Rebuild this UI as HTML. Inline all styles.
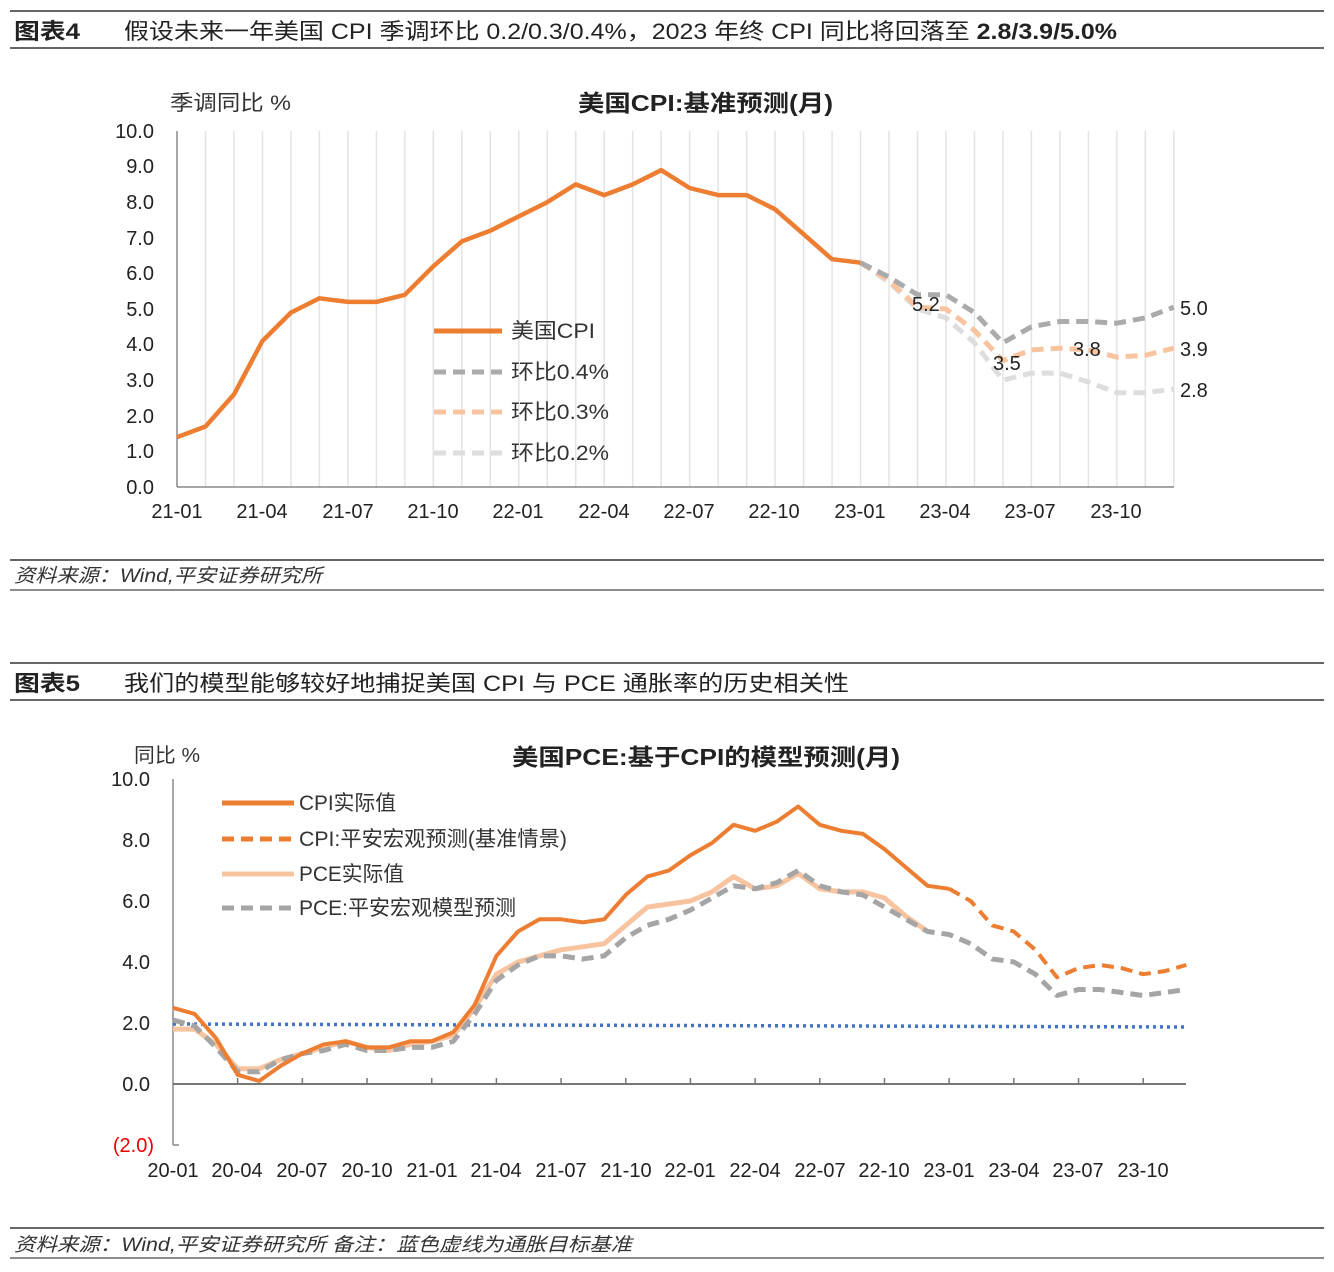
<!DOCTYPE html>
<html><head><meta charset="utf-8"><style>
body{margin:0;background:#fff;width:1334px;height:1272px;overflow:hidden}
svg{display:block;font-family:"Liberation Sans","Noto Sans CJK SC",sans-serif}
</style></head><body>
<svg id="s" width="1334" height="1272" viewBox="0 0 1334 1272" xmlns="http://www.w3.org/2000/svg">
<rect width="1334" height="1272" fill="#fff"/>
<line x1="10" y1="11" x2="1324" y2="11" stroke="#666" stroke-width="2"/>
<line x1="10" y1="48" x2="1324" y2="48" stroke="#666" stroke-width="2"/>
<text x="14" y="39" font-size="22" font-weight="bold" fill="#222" textLength="66" lengthAdjust="spacingAndGlyphs">图表4</text>
<text x="124" y="39" font-size="22" fill="#222" textLength="993" lengthAdjust="spacingAndGlyphs">假设未来一年美国 CPI 季调环比 0.2/0.3/0.4%，2023 年终 CPI 同比将回落至 <tspan font-weight="bold">2.8/3.9/5.0%</tspan></text>
<text x="170" y="110" font-size="21" fill="#333" textLength="121" lengthAdjust="spacingAndGlyphs">季调同比 %</text>
<text x="578" y="111" font-size="23" font-weight="bold" fill="#222" textLength="255" lengthAdjust="spacingAndGlyphs">美国CPI:基准预测(月)</text>
<g id="grid1" stroke="#e3e3e3" stroke-width="1.5"></g>
<line x1="177" y1="131" x2="177" y2="487" stroke="#888" stroke-width="1.5"/>
<line x1="177" y1="487" x2="1174" y2="487" stroke="#888" stroke-width="1.5"/>
<g font-size="20" fill="#222" text-anchor="end">
<text x="154" y="138">10.0</text><text x="154" y="173">9.0</text><text x="154" y="209">8.0</text><text x="154" y="245">7.0</text><text x="154" y="280">6.0</text><text x="154" y="316">5.0</text><text x="154" y="351">4.0</text><text x="154" y="387">3.0</text><text x="154" y="423">2.0</text><text x="154" y="458">1.0</text><text x="154" y="494">0.0</text>
</g>
<g font-size="20" fill="#222" text-anchor="middle">
<text x="177" y="518">21-01</text><text x="262" y="518">21-04</text><text x="348" y="518">21-07</text><text x="433" y="518">21-10</text><text x="518" y="518">22-01</text><text x="604" y="518">22-04</text><text x="689" y="518">22-07</text><text x="774" y="518">22-10</text><text x="860" y="518">23-01</text><text x="945" y="518">23-04</text><text x="1030" y="518">23-07</text><text x="1116" y="518">23-10</text>
</g>
<g id="c1"></g>
<g font-size="20" fill="#222">
<text x="912" y="311">5.2</text><text x="993" y="370">3.5</text><text x="1073" y="356">3.8</text>
<text x="1180" y="315">5.0</text><text x="1180" y="356">3.9</text><text x="1180" y="397">2.8</text>
</g>
<g font-size="21" fill="#333">
<line x1="434" y1="331" x2="502" y2="331" stroke="#ED7D31" stroke-width="5"/><text x="511" y="338" textLength="84" lengthAdjust="spacingAndGlyphs">美国CPI</text>
<line x1="434" y1="372" x2="502" y2="372" stroke="#ABABAB" stroke-width="5" stroke-dasharray="12,7"/><text x="511" y="379" textLength="98" lengthAdjust="spacingAndGlyphs">环比0.4%</text>
<line x1="434" y1="412" x2="502" y2="412" stroke="#F8C4A0" stroke-width="5" stroke-dasharray="12,7"/><text x="511" y="419" textLength="98" lengthAdjust="spacingAndGlyphs">环比0.3%</text>
<line x1="434" y1="453" x2="502" y2="453" stroke="#DDDDDD" stroke-width="5" stroke-dasharray="12,7"/><text x="511" y="460" textLength="98" lengthAdjust="spacingAndGlyphs">环比0.2%</text>
</g>
<line x1="10" y1="560" x2="1324" y2="560" stroke="#666" stroke-width="2"/>
<line x1="10" y1="590" x2="1324" y2="590" stroke="#666" stroke-width="1.5"/>
<text x="14" y="582" font-size="19" font-style="italic" fill="#333" textLength="308" lengthAdjust="spacingAndGlyphs">资料来源：Wind,平安证券研究所</text>

<line x1="10" y1="663" x2="1324" y2="663" stroke="#666" stroke-width="2"/>
<line x1="10" y1="700" x2="1324" y2="700" stroke="#666" stroke-width="2"/>
<text x="14" y="691" font-size="22" font-weight="bold" fill="#222" textLength="66" lengthAdjust="spacingAndGlyphs">图表5</text>
<text x="124" y="691" font-size="22" fill="#222" textLength="725" lengthAdjust="spacingAndGlyphs">我们的模型能够较好地捕捉美国 CPI 与 PCE 通胀率的历史相关性</text>
<text x="134" y="762" font-size="20" fill="#333" textLength="66" lengthAdjust="spacingAndGlyphs">同比 %</text>
<text x="512" y="765" font-size="23" font-weight="bold" fill="#222" textLength="388" lengthAdjust="spacingAndGlyphs">美国PCE:基于CPI的模型预测(月)</text>
<line x1="173" y1="779" x2="173" y2="1145" stroke="#888" stroke-width="1.5"/>
<line x1="173" y1="1145" x2="179" y2="1145" stroke="#888" stroke-width="1.5"/>
<line x1="173" y1="1084" x2="1186" y2="1084" stroke="#777" stroke-width="2"/>
<g id="ticks2" stroke="#777" stroke-width="1.5"></g>
<g font-size="20" fill="#222" text-anchor="end">
<text x="150" y="786">10.0</text><text x="150" y="847">8.0</text><text x="150" y="908">6.0</text><text x="150" y="969">4.0</text><text x="150" y="1030">2.0</text><text x="150" y="1091">0.0</text><text x="154" y="1152" fill="#E00">(2.0)</text>
</g>
<g font-size="20" fill="#222" text-anchor="middle">
<text x="173" y="1177">20-01</text><text x="237" y="1177">20-04</text><text x="302" y="1177">20-07</text><text x="367" y="1177">20-10</text><text x="432" y="1177">21-01</text><text x="496" y="1177">21-04</text><text x="561" y="1177">21-07</text><text x="626" y="1177">21-10</text><text x="690" y="1177">22-01</text><text x="755" y="1177">22-04</text><text x="820" y="1177">22-07</text><text x="884" y="1177">22-10</text><text x="949" y="1177">23-01</text><text x="1014" y="1177">23-04</text><text x="1078" y="1177">23-07</text><text x="1143" y="1177">23-10</text>
</g>
<line x1="173" y1="1024" x2="1186" y2="1027" stroke="#4472C4" stroke-width="3.5" stroke-dasharray="3,4"/>
<g id="c2"></g>
<g font-size="21" fill="#333">
<line x1="222" y1="803" x2="294" y2="803" stroke="#ED7D31" stroke-width="5"/><text x="299" y="810" textLength="97" lengthAdjust="spacingAndGlyphs">CPI实际值</text>
<line x1="222" y1="839" x2="294" y2="839" stroke="#ED7D31" stroke-width="5" stroke-dasharray="12,7"/><text x="299" y="846" textLength="268" lengthAdjust="spacingAndGlyphs">CPI:平安宏观预测(基准情景)</text>
<line x1="222" y1="874" x2="294" y2="874" stroke="#F8C4A0" stroke-width="5"/><text x="299" y="881" textLength="105" lengthAdjust="spacingAndGlyphs">PCE实际值</text>
<line x1="222" y1="908" x2="294" y2="908" stroke="#A5A5A5" stroke-width="5" stroke-dasharray="12,7"/><text x="299" y="915" textLength="217" lengthAdjust="spacingAndGlyphs">PCE:平安宏观模型预测</text>
</g>
<line x1="10" y1="1228" x2="1324" y2="1228" stroke="#666" stroke-width="2"/>
<line x1="10" y1="1258" x2="1324" y2="1258" stroke="#666" stroke-width="1.5"/>
<text x="14" y="1251" font-size="19" font-style="italic" fill="#333" textLength="618" lengthAdjust="spacingAndGlyphs">资料来源：Wind,平安证券研究所 备注：蓝色虚线为通胀目标基准</text>
</svg>
<script>
var NS="http://www.w3.org/2000/svg";
function pl(g,pts,col,w,dash){var p=document.createElementNS(NS,"polyline");p.setAttribute("points",pts.join(" "));p.setAttribute("fill","none");p.setAttribute("stroke",col);p.setAttribute("stroke-width",w);p.setAttribute("stroke-linejoin","round");if(dash)p.setAttribute("stroke-dasharray",dash);document.getElementById(g).appendChild(p);}
var g1=document.getElementById("grid1");
for(var i=1;i<36;i++){var x=177+i*28.48;var l=document.createElementNS(NS,"line");l.setAttribute("x1",x);l.setAttribute("x2",x);l.setAttribute("y1",131);l.setAttribute("y2",487);g1.appendChild(l);}
function P1(arr,start){return arr.map(function(v,i){return (177+(start+i)*28.48).toFixed(1)+","+(487-v*35.6).toFixed(1)});}
var cpi=[1.4,1.7,2.6,4.1,4.9,5.3,5.2,5.2,5.4,6.2,6.9,7.2,7.6,8.0,8.5,8.2,8.5,8.9,8.4,8.2,8.2,7.8,7.1,6.4,6.3];
pl("c1",P1([6.3,5.75,5.0,4.75,4.05,3.0,3.2,3.2,2.95,2.65,2.65,2.75],24),"#DDDDDD",5,"12,7");
pl("c1",P1([6.3,5.8,5.05,5.0,4.4,3.55,3.85,3.9,3.85,3.65,3.7,3.9],24),"#F8C4A0",5,"12,7");
pl("c1",P1([6.3,5.9,5.4,5.4,4.9,4.05,4.5,4.65,4.65,4.6,4.75,5.05],24),"#ABABAB",5,"12,7");
pl("c1",P1(cpi,0),"#ED7D31",4.5);
var t2=document.getElementById("ticks2");
for(var i=3;i<48;i+=3){var x=173+i*21.56;var l=document.createElementNS(NS,"line");l.setAttribute("x1",x);l.setAttribute("x2",x);l.setAttribute("y1",1078);l.setAttribute("y2",1084);t2.appendChild(l);}
function P2(arr,start){return arr.map(function(v,i){return (173+(start+i)*21.56).toFixed(1)+","+(1084-v*30.5).toFixed(1)});}
var pce=[1.8,1.8,1.3,0.5,0.5,0.8,1.0,1.2,1.4,1.2,1.1,1.3,1.4,1.6,2.5,3.6,4.0,4.2,4.4,4.5,4.6,5.2,5.8,5.9,6.0,6.3,6.8,6.4,6.5,6.9,6.4,6.3,6.3,6.1,5.5,5.0];
var pm=[2.1,1.9,1.2,0.4,0.4,0.8,1.0,1.1,1.3,1.1,1.1,1.2,1.2,1.4,2.3,3.4,3.9,4.2,4.2,4.1,4.2,4.8,5.2,5.4,5.7,6.1,6.5,6.4,6.6,7.0,6.5,6.3,6.2,5.8,5.4,5.0,4.9,4.6,4.1,4.0,3.6,2.9,3.1,3.1,3.0,2.9,3.0,3.1];
var c=[2.5,2.3,1.5,0.3,0.1,0.6,1.0,1.3,1.4,1.2,1.2,1.4,1.4,1.7,2.6,4.2,5.0,5.4,5.4,5.3,5.4,6.2,6.8,7.0,7.5,7.9,8.5,8.3,8.6,9.1,8.5,8.3,8.2,7.7,7.1,6.5,6.4];
var cf=[6.4,6.0,5.2,5.0,4.4,3.5,3.8,3.9,3.8,3.6,3.7,3.9];
pl("c2",P2(pce,0),"#F8C4A0",5);
pl("c2",P2(pm,0),"#A5A5A5",5,"12,7");
pl("c2",P2(cf,36),"#ED7D31",4,"12,7");
pl("c2",P2(c,0),"#ED7D31",4);
</script>
</body></html>
